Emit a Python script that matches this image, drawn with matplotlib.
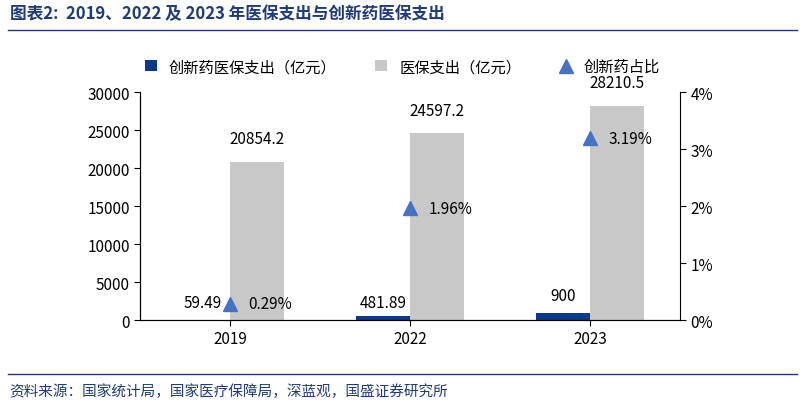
import numpy as np
import matplotlib.pyplot as plt

plt.rcParams['font.family'] = ['Noto Sans CJK SC', 'DejaVu Sans']

years = ['2019', '2022', '2023']
innov = [59.49, 481.89, 900]
total = [20854.2, 24597.2, 28210.5]
share = [0.29, 1.96, 3.19]
innov_lbl = ['59.49', '481.89', '900']
total_lbl = ['20854.2', '24597.2', '28210.5']

fig = plt.figure(figsize=(8.05, 4.10), dpi=100)
ax = fig.add_axes([0.174, 0.217, 0.671, 0.556])
ax2 = ax.twinx()

x = np.arange(len(years))
w = 0.3
b1 = ax.bar(x - w / 2, innov, w, color='#0a3a8c', label='创新药医保支出（亿元）')
b2 = ax.bar(x + w / 2, total, w, color='#c8c8c8', label='医保支出（亿元）')
for xi, v, t in zip(x, innov, innov_lbl):
    ax.text(xi - w / 2, 1200 if v < 500 else v + 1200, t, ha='center', va='bottom', fontsize=11)
for xi, v, t in zip(x, total, total_lbl):
    ax.text(xi + w / 2, v + 3000, t, ha='center', va='center', fontsize=11)

ax2.plot(x, share, '^', color='#4472c4', markersize=10, linestyle='none', label='创新药占比')
for xi, s in zip(x, share):
    ax2.text(xi + 0.1, s, f'{s:.2f}%', va='center', fontsize=11)

ax.set_ylim(0, 30000)
ax.set_yticks(range(0, 30001, 5000))
ax2.set_ylim(0, 4)
ax2.set_yticks(range(0, 5))
ax2.set_yticklabels([f'{i}%' for i in range(5)])
ax.set_xlim(-0.5, 2.5)
ax.set_xticks(x)
ax.set_xticklabels(years)
for a in (ax, ax2):
    a.tick_params(labelsize=11, length=4)
    a.spines['top'].set_visible(False)
ax.spines['right'].set_visible(False)

h1, l1 = ax.get_legend_handles_labels()
h2, l2 = ax2.get_legend_handles_labels()
fig.legend(h1 + h2, l1 + l2, loc='center', bbox_to_anchor=(0.5, 0.835), ncol=3,
           frameon=False, fontsize=11, handlelength=0.8, columnspacing=2.5)

fig.text(0.012, 0.965, '图表2:  2019、2022 及 2023 年医保支出与创新药医保支出',
         color='#1f3b7a', fontsize=12, style='italic', weight='bold', va='center')
fig.add_artist(plt.Line2D([0.01, 0.99], [0.925, 0.925], color='#1f3b7a', lw=1))
fig.add_artist(plt.Line2D([0.01, 0.99], [0.085, 0.085], color='#1f3b7a', lw=1))
fig.text(0.012, 0.045, '资料来源：国家统计局，国家医疗保障局，深蓝观，国盛证券研究所',
         color='#1f3b7a', fontsize=10.5, style='italic', va='center')

fig.savefig('out.png', dpi=100)
